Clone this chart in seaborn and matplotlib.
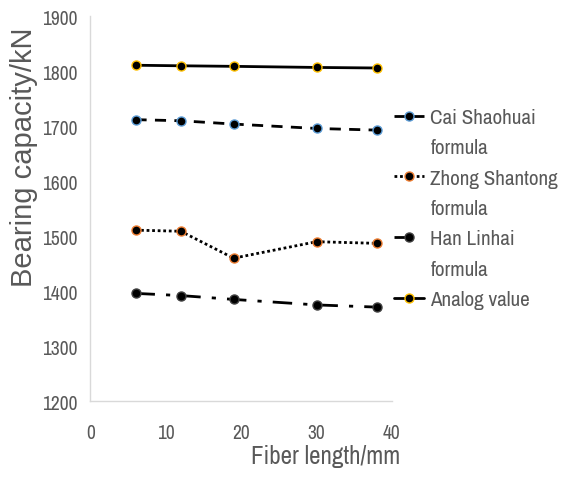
import matplotlib
matplotlib.use("Agg")
import matplotlib.pyplot as plt
from matplotlib.lines import Line2D
import seaborn as sns

# Datos
fiber_length = [6, 12, 19, 30, 38]
cai_shaohuai = [1712, 1710, 1704, 1696, 1693]
zhong_shantong = [1511, 1509, 1460, 1490, 1487]
han_linhai = [1396, 1392, 1385, 1375, 1371]
analog_value = [1811, 1810, 1809, 1807, 1806]

series_labels = [
    "Cai Shaohuai\nformula",
    "Zhong Shantong\nformula",
    "Han Linhai\nformula",
    "Analog value",
]

sns.set_style("white")
narrow = ["Archivo Narrow", "Roboto Condensed", "DejaVu Sans"]
plt.rcParams["font.family"] = narrow
gris = "#595959"

fig = plt.figure(figsize=(5.64, 4.81), dpi=100)
ax = fig.add_axes([0.16, 0.164, 0.535, 0.80])

estilos = [
    (cai_shaohuai, (0, (4, 3)), "#5b9bd5"),
    (zhong_shantong, (0, (1, 1)), "#ed7d31"),
    (han_linhai, (0, (7, 4, 1.5, 4)), "#404040"),
    (analog_value, "-", "#ffc000"),
]

for (valores, ls, borde), etiqueta in zip(estilos, series_labels):
    sns.lineplot(
        x=fiber_length,
        y=valores,
        ax=ax,
        color="black",
        linestyle=ls,
        linewidth=2,
        marker="o",
        markersize=6.5,
        markerfacecolor="black",
        markeredgecolor=borde,
        markeredgewidth=1,
        label=etiqueta,
    )

ax.set_xlim(0, 40)
ax.set_ylim(1200, 1900)
ax.set_xticks([0, 10, 20, 30, 40])
ax.set_yticks(range(1200, 1901, 100))
ax.tick_params(axis="both", length=0, labelsize=14, labelcolor=gris)
ax.tick_params(axis="x", pad=16)
ax.tick_params(axis="y", pad=9)

for lado in ["top", "right"]:
    ax.spines[lado].set_visible(False)
for lado in ["left", "bottom"]:
    ax.spines[lado].set_color("#d9d9d9")
    ax.spines[lado].set_linewidth(1)

ax.set_ylabel("Bearing capacity/kN", fontsize=21, color=gris,
              family=["Liberation Sans", "DejaVu Sans"])
ax.yaxis.set_label_coords(-0.172, 0.636)
ax.set_xlabel("Fiber length/mm", fontsize=18, color=gris, loc="right")
ax.xaxis.set_label_coords(1.027, -0.112)

# Leyenda estilo Excel: el símbolo va alineado con la primera línea del texto
handles, labels = ax.get_legend_handles_labels()
ax.get_legend().remove()
h_leg, l_leg = [], []
for h, lab in zip(handles, labels):
    lineas = lab.split("\n")
    h_leg.append(h)
    l_leg.append(lineas[0])
    for resto in lineas[1:]:
        h_leg.append(Line2D([], [], linestyle="none"))
        l_leg.append(resto)

leg = ax.legend(
    h_leg,
    l_leg,
    loc="upper left",
    bbox_to_anchor=(1.008, 0.762),
    frameon=False,
    fontsize=15.2,
    handlelength=1.4,
    handletextpad=0.3,
    labelspacing=0.54,
    borderpad=0,
    borderaxespad=0,
)
for t in leg.get_texts():
    t.set_color(gris)

fig.savefig("out.png", dpi=100)
